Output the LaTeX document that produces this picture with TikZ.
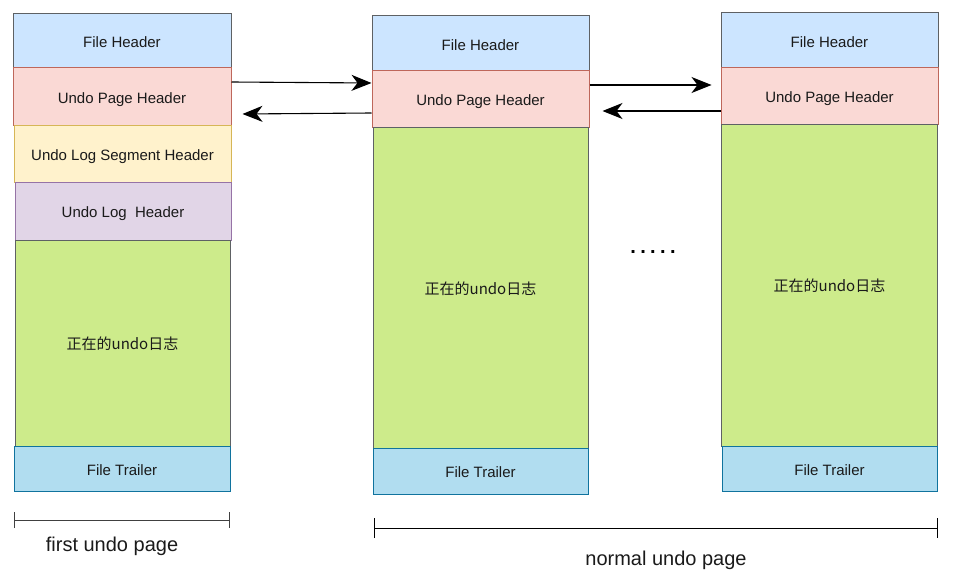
\documentclass[tikz,border=0pt]{standalone}
\usepackage{fontspec}
\setmainfont{Liberation Sans}
\newfontfamily\cjk{Noto Sans CJK SC}
\usetikzlibrary{arrows.meta}
\definecolor{fhfill}{HTML}{CCE5FF}
\definecolor{grstroke}{HTML}{36393D}
\definecolor{uphfill}{HTML}{FAD9D5}
\definecolor{uphstroke}{HTML}{AE4132}
\definecolor{yfill}{HTML}{FFF2CC}
\definecolor{ystroke}{HTML}{D6B656}
\definecolor{pfill}{HTML}{E1D5E7}
\definecolor{pstroke}{HTML}{9673A6}
\definecolor{gfill}{HTML}{CDEB8B}
\definecolor{tfill}{HTML}{B1DDF0}
\definecolor{tstroke}{HTML}{10739E}
\definecolor{txt}{HTML}{1A1A1A}
\tikzset{
  box/.style={draw, line width=1pt, inner sep=0pt, text=txt, text height=13.5pt, text depth=0pt, font=\fontsize{15}{18}\selectfont},
  fhbox/.style={box, fill=fhfill, draw=grstroke!80},
  uphbox/.style={box, fill=uphfill, draw=uphstroke!80},
  segbox/.style={box, fill=yfill, draw=ystroke},
  logbox/.style={box, fill=pfill, draw=pstroke},
  greenbox/.style={box, fill=gfill, draw=grstroke!80},
  trailbox/.style={box, fill=tfill, draw=tstroke},
  arr/.style={line width=1.1pt, -{Stealth[length=20pt,width=16pt,inset=6pt]}},
  brk/.style={line width=1pt, draw=black!75},
  lbl/.style={text=txt, font=\fontsize{20}{24}\selectfont}
}
\begin{document}
\begin{tikzpicture}[x=1pt,y=-1pt]
\useasboundingbox (0,0) rectangle (954,578);
% column 1
\node[fhbox, minimum width=218pt, minimum height=54pt] (fh1) at (122,41) {File Header};
\node[uphbox, minimum width=218pt, minimum height=57pt] (uph1) at (122,96.5) {Undo Page Header};
\node[segbox, minimum width=217pt, minimum height=57pt] (seg1) at (122.5,153.5) {Undo Log Segment Header};
\node[logbox, minimum width=216pt, minimum height=58pt] (log1) at (123,211) {Undo Log\ \ Header};
\node[greenbox, minimum width=215pt, minimum height=206pt] (g1) at (122.5,343) {\cjk 正在的undo日志};
\node[trailbox, minimum width=216pt, minimum height=45pt] (ft1) at (122,468.5) {File Trailer};
% column 2
\node[fhbox, minimum width=217pt, minimum height=55pt] (fh2) at (480.5,43.5) {File Header};
\node[uphbox, minimum width=217pt, minimum height=56pt] (uph2) at (480.5,99) {Undo Page Header};
\node[greenbox, minimum width=215pt, minimum height=321pt] (g2) at (480.5,287.5) {\cjk 正在的undo日志};
\node[trailbox, minimum width=215pt, minimum height=46pt] (ft2) at (480.5,471) {File Trailer};
% column 3
\node[fhbox, minimum width=217pt, minimum height=55pt] (fh3) at (829.5,40.5) {File Header};
\node[uphbox, minimum width=217pt, minimum height=56pt] (uph3) at (829.5,96) {Undo Page Header};
\node[greenbox, minimum width=216pt, minimum height=322pt] (g3) at (829.5,285) {\cjk 正在的undo日志};
\node[trailbox, minimum width=215pt, minimum height=45pt] (ft3) at (829.5,468.5) {File Trailer};
% arrows
\draw[arr] ([yshift=14.5pt]uph1.east) -- ([yshift=16pt]uph2.west);
\draw[arr] ([yshift=-14pt]uph2.west) -- ([xshift=11pt,yshift=-17.5pt]uph1.east);
\draw[arr] ([yshift=14pt]uph2.east) -- ([xshift=-9pt,yshift=11pt]uph3.west);
\draw[arr] ([yshift=-15pt]uph3.west) -- ([xshift=13pt,yshift=-12pt]uph2.east);
% dots
\node[text=black, font=\fontsize{20}{24}\selectfont\bfseries] (dots) at (653,252) {.\kern4.4pt.\kern4.4pt.\kern4.4pt.\kern4.4pt.};
% brackets
\coordinate (b1l) at (14,520);
\coordinate (b1r) at (230,520);
\draw[brk, {Bar[width=16pt]}-{Bar[width=16pt]}] (b1l) -- (b1r);
\node[lbl] (l1) at (112,546) {first undo page};
\coordinate (b2l) at (374,528);
\coordinate (b2r) at (938,528);
\draw[brk, draw=black, {Bar[width=20pt]}-{Bar[width=20pt]}] (b2l) -- (b2r);
\node[lbl] (l2) at (666,560) {normal undo page};
\end{tikzpicture}
\end{document}
